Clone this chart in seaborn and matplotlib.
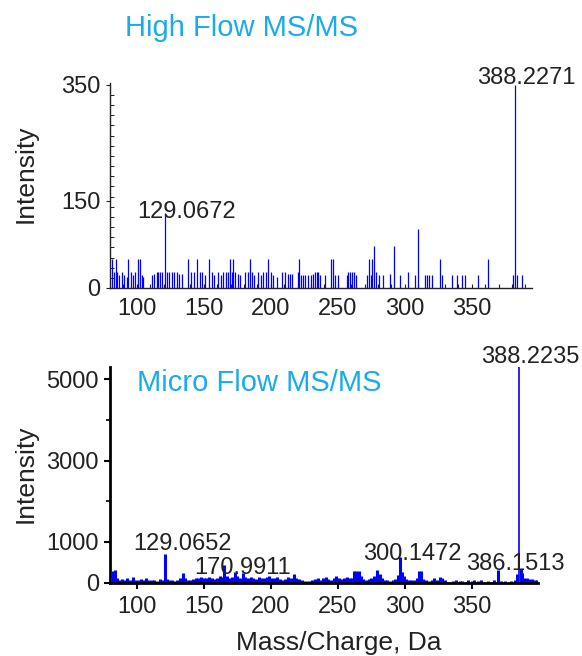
import matplotlib
matplotlib.use('Agg')
import matplotlib.pyplot as plt
from matplotlib.ticker import FixedLocator, MultipleLocator
import seaborn as sns

# Spectre "High Flow" (m/z, intensite)
mz_high = [81.8, 83.3, 84.3, 85.5, 86.8, 89.3, 90.8, 92.5, 93.8, 95.7, 97.5, 98.7,
           101.2, 102.5, 103.7, 105.0, 111.7, 113.2, 114.9, 116.1, 117.6, 119.1,
           121.1, 122.4, 124.1, 126.1, 127.6, 129.8, 131.6, 133.6, 138.5, 140.5,
           143.0, 144.8, 147.2, 148.5, 151.0, 154.2, 156.0, 157.9, 160.4, 162.9,
           164.7, 166.4, 168.4, 169.6, 170.9, 172.1, 173.4, 175.4, 177.1, 180.8,
           182.8, 184.6, 186.3, 187.8, 190.3, 192.8, 194.5, 196.2, 198.2, 200.2,
           202.0, 204.5, 208.2, 210.7, 212.7, 214.4, 216.1, 220.1, 221.1, 222.6,
           224.4, 225.6, 228.1, 230.1, 231.8, 233.1, 234.3, 235.5, 236.8, 240.5,
           245.0, 246.7, 248.0, 250.0, 256.7, 257.9, 259.2, 260.4, 262.2, 263.4,
           271.6, 273.6, 274.8, 275.8, 277.1, 278.3, 281.1, 283.6, 289.0, 292.3,
           296.5, 302.2, 307.7, 310.2, 315.1, 316.4, 318.1, 320.1, 326.4, 327.6,
           335.0, 338.8, 342.5, 345.0, 355.0, 362.0, 380.5, 382.3, 383.5, 387.5]
int_high = [50, 27, 50, 27, 22, 27, 22, 19, 50, 27, 22, 27,
            50, 50, 22, 19, 22, 24, 27, 27, 27, 27,
            130, 27, 27, 27, 27, 27, 24, 24, 50, 27,
            27, 50, 27, 27, 22, 50, 27, 22, 27, 22,
            27, 27, 27, 50, 27, 50, 27, 24, 22, 27,
            27, 50, 27, 22, 27, 22, 27, 27, 50, 27,
            22, 19, 27, 27, 24, 24, 24, 27, 50, 22,
            22, 22, 22, 22, 24, 27, 27, 27, 22, 22,
            50, 50, 22, 22, 22, 27, 27, 27, 27, 22,
            22, 50, 22, 50, 73, 27, 22, 22, 24, 73,
            22, 27, 22, 101, 22, 22, 22, 22, 50, 22,
            22, 22, 22, 22, 22, 50, 22, 350, 22, 22]

# Spectre "Micro Flow" (m/z, intensite)
mz_micro = [82, 83.5, 85, 87, 89, 91, 93, 95, 97, 99, 101, 103, 105, 107, 109, 111,
            113, 115, 117, 119, 121.1, 122.5, 124, 126, 128, 130, 132, 134.5, 136, 138,
            140, 142, 144, 146, 148, 150, 152, 154, 156, 158, 160, 162, 164, 165, 167,
            169, 171, 173, 175, 177, 179, 181, 183, 185, 187, 189, 191, 193, 195, 197,
            199, 201, 203, 205, 207, 209, 211, 213, 215, 217, 219, 221, 223, 225, 227,
            229, 231, 233, 235, 237, 239, 241, 243, 245, 247, 249, 251, 253, 255, 257,
            259, 261, 262.5, 264, 266, 267.5, 269, 271, 273, 275, 277, 279.5, 281.5, 283,
            285, 287, 289, 291, 293, 295, 296.5, 298, 299.5, 301, 303, 305, 307, 309,
            311, 312.5, 314, 316, 318, 320, 322, 324, 326, 328, 330, 336, 338, 341, 343,
            347, 350, 352, 355, 357, 362, 367, 369.5, 372, 375, 379, 382, 384, 385.4,
            386.5, 387.5, 389, 391, 393, 395, 397, 398.5]
int_micro = [280, 300, 120, 60, 90, 50, 110, 60, 140, 70, 50, 90, 60, 120, 50, 70,
             60, 40, 90, 70, 690, 80, 60, 50, 40, 60, 110, 230, 120, 70,
             60, 80, 100, 120, 140, 120, 100, 140, 120, 90, 110, 150, 130, 420, 150,
             120, 140, 260, 150, 120, 240, 140, 100, 130, 110, 90, 130, 110, 120, 140,
             150, 110, 100, 130, 90, 70, 80, 140, 120, 200, 110, 80, 60, 40, 30,
             40, 60, 90, 110, 70, 100, 140, 80, 60, 100, 160, 120, 90, 110, 140,
             100, 120, 280, 290, 280, 150, 80, 60, 90, 120, 160, 300, 220, 100,
             60, 50, 40, 60, 90, 180, 620, 250, 150, 90, 60, 50, 70, 120,
             290, 280, 90, 60, 40, 60, 120, 60, 130, 110, 60, 40, 50, 40, 30,
             50, 40, 60, 40, 50, 30, 60, 300, 40, 30, 40, 60, 220, 5300,
             320, 230, 120, 100, 90, 80, 70, 60]

x_ticks = [100, 150, 200, 250, 300, 350]
high_yticks = [0, 150, 350]
micro_yticks = [0, 1000, 3000, 5000]

high_labels = [("388.2271", 390.5, 352), ("129.0672", 137.2, 121)]
micro_labels = [("388.2235", 393.9, 5393), ("129.0652", 134.3, 800),
                ("170.9911", 179.1, 209), ("300.1472", 305.8, 553),
                ("386.1513", 382.3, 307)]

sns.set_theme(style='ticks')
plt.rcParams['font.family'] = ['Liberation Sans', 'DejaVu Sans']
txt = '#222222'
title_col = '#1aabed'

W, H = 582, 656
fig = plt.figure(figsize=(W / 100, H / 100), dpi=100)

# Panneau du haut
ax1 = fig.add_axes([110 / W, 1 - 288 / H, 422 / W, 205 / H])
ax1.vlines(mz_high, 0, int_high, color='#0000ff', lw=0.9)
ax1.set_xlim(80, 395)
ax1.set_ylim(0, 353)
ax1.xaxis.set_major_locator(FixedLocator(x_ticks))
ax1.xaxis.set_minor_locator(MultipleLocator(10))
ax1.yaxis.set_major_locator(FixedLocator(high_yticks))
ax1.yaxis.set_minor_locator(MultipleLocator(17.5))
ax1.tick_params(axis='x', which='both', direction='in', length=3, width=0.8,
                color=txt, labelsize=17, labelcolor=txt, pad=7)
ax1.tick_params(axis='y', which='major', direction='out', length=3, width=0.8,
                color=txt, labelsize=17, labelcolor=txt, pad=4)
ax1.tick_params(axis='y', which='minor', direction='in', length=3, width=0.7, color=txt)
for s in ['left', 'bottom']:
    ax1.spines[s].set_color(txt)
    ax1.spines[s].set_linewidth(1.0)
sns.despine(ax=ax1)
for s, x, y in high_labels:
    ax1.text(x, y, s, ha='center', va='baseline', fontsize=17, color=txt)

# Panneau du bas : bruit de fond en traits larges, pics majeurs plus fins
ax2 = fig.add_axes([110 / W, 1 - 582.5 / H, 428 / W, 215.5 / H])
widths = [1.2 if v > 1000 else 2.2 for v in int_micro]
ax2.vlines(mz_micro, 0, int_micro, color='#0000ff', linewidths=widths)
ax2.set_xlim(80, 399.5)
ax2.set_ylim(0, 5300)
ax2.xaxis.set_major_locator(FixedLocator(x_ticks))
ax2.yaxis.set_major_locator(FixedLocator(micro_yticks))
ax2.yaxis.set_minor_locator(FixedLocator([2000, 4000]))
ax2.tick_params(axis='both', which='major', direction='out', length=4, width=1.5,
                color='black', labelsize=17, labelcolor=txt)
ax2.tick_params(axis='x', pad=6)
ax2.tick_params(axis='y', pad=4)
ax2.tick_params(axis='y', which='minor', direction='out', length=3, width=1.2, color='black')
for s in ['left', 'bottom']:
    ax2.spines[s].set_color('black')
    ax2.spines[s].set_linewidth(2.0)
sns.despine(ax=ax2)
for s, x, y in micro_labels:
    ax2.text(x, y, s, ha='center', va='baseline', fontsize=17, color=txt)

# Titres et libelles
fig.text(125 / W, 1 - 36 / H, 'High Flow MS/MS', color=title_col, fontsize=21,
         ha='left', va='baseline')
fig.text(137 / W, 1 - 391 / H, 'Micro Flow MS/MS', color=title_col, fontsize=21,
         ha='left', va='baseline')
fig.text(26 / W, 1 - 174 / H, 'Intensity', rotation=90, fontsize=19, color=txt,
         ha='center', va='center')
fig.text(26 / W, 1 - 474 / H, 'Intensity', rotation=90, fontsize=19, color=txt,
         ha='center', va='center')
fig.text(339 / W, 1 - 650 / H, 'Mass/Charge, Da', fontsize=19, color=txt,
         ha='center', va='baseline')

fig.savefig('out.png', dpi=100)
plt.close(fig)
